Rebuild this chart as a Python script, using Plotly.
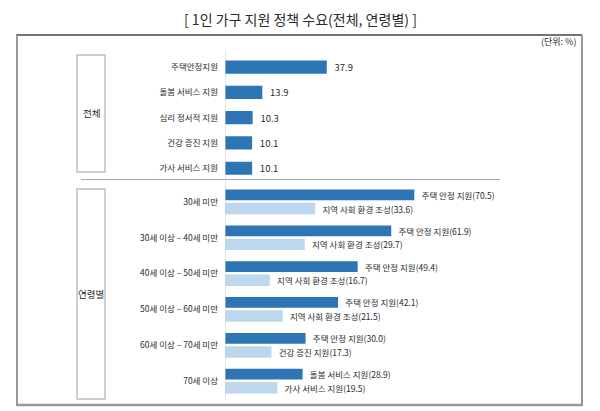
import plotly.graph_objects as go

# ---- data ----
overall_items = ["주택안정지원", "돌봄 서비스 지원", "심리 정서적 지원", "건강 증진 지원", "가사 서비스 지원"]
overall_values = [37.9, 13.9, 10.3, 10.1, 10.1]

age_groups = ["30세 미만", "30세 이상 – 40세 미만", "40세 이상 – 50세 미만",
              "50세 이상 – 60세 미만", "60세 이상 – 70세 미만", "70세 이상"]
first_names = ["주택 안정 지원", "주택 안정 지원", "주택 안정 지원",
               "주택 안정 지원", "주택 안정 지원", "돌봄 서비스 지원"]
first_values = [70.5, 61.9, 49.4, 42.1, 30.0, 28.9]
second_names = ["지역 사회 환경 조성", "지역 사회 환경 조성", "지역 사회 환경 조성",
                "지역 사회 환경 조성", "건강 증진 지원", "가사 서비스 지원"]
second_values = [33.6, 29.7, 16.7, 21.5, 17.3, 19.5]

section_labels = ["전체", "연령별"]
title_text = "[ 1인 가구 지원 정책 수요(전체, 연령별) ]"
unit_text = "(단위: %)"

# ---- style ----
FONT = "Noto Sans CJK KR"
DARK = "#2E75B6"
LIGHT = "#BDD7EE"
TXT = "#2B2B2B"
OFF = 8  # page body margin
W, H = 600 - OFF, 411 - OFF
XMAX = 102.4
GAP = "\u2002"  # small visual gap between bar end and its label


def py(p):
    return 1 - (p - OFF) / H


def px(p):
    return (p - OFF) / W


fig = go.Figure()

fig.add_trace(go.Bar(
    y=overall_items, x=overall_values, orientation="h",
    marker=dict(color=DARK, line=dict(width=0)), width=0.52,
    text=[f"{v:.1f}" for v in overall_values], texttemplate=GAP + "%{text}",
    textposition="outside",
    textfont=dict(family=FONT, size=9.5, color=TXT), cliponaxis=False,
    constraintext="none", xaxis="x", yaxis="y", showlegend=False,
))

fig.add_trace(go.Bar(
    y=age_groups, x=first_values, orientation="h",
    marker=dict(color=DARK, line=dict(width=0)), width=0.30, offset=-0.34,
    text=[f"{n}({v:.1f})" for n, v in zip(first_names, first_values)],
    texttemplate=GAP + "%{text}",
    textposition="outside", textfont=dict(family=FONT, size=8.5, color=TXT),
    cliponaxis=False, constraintext="none", xaxis="x2", yaxis="y2", showlegend=False,
))

fig.add_trace(go.Bar(
    y=age_groups, x=second_values, orientation="h",
    marker=dict(color=LIGHT, line=dict(width=0)), width=0.32, offset=0.03,
    text=[f"{n}({v:.1f})" for n, v in zip(second_names, second_values)],
    texttemplate=GAP + "%{text}",
    textposition="outside", textfont=dict(family=FONT, size=8.5, color=TXT),
    cliponaxis=False, constraintext="none", xaxis="x2", yaxis="y2", showlegend=False,
))

xdom = [px(225), px(500)]
common_x = dict(domain=xdom, range=[0, XMAX], visible=False, fixedrange=True)
common_y = dict(autorange="reversed", showline=False, showgrid=False, zeroline=False,
                ticks="", ticklabelstandoff=6, automargin=False,
                tickfont=dict(family=FONT, size=8.5, color=TXT))

fig.update_layout(
    width=W, height=H,
    margin=dict(l=0, r=0, t=0, b=0),
    paper_bgcolor="white", plot_bgcolor="rgba(0,0,0,0)",
    barmode="overlay",
    xaxis=dict(anchor="y", **common_x),
    yaxis=dict(anchor="x", domain=[py(180.9), py(54.4)], **common_y),
    xaxis2=dict(anchor="y2", **common_x),
    yaxis2=dict(anchor="x2", domain=[py(398.9), py(183.8)], **common_y),
    font=dict(family=FONT, color=TXT),
)

shapes = [
    # frame
    dict(type="line", xref="paper", yref="paper", x0=px(16), x1=px(582), y0=py(35), y1=py(35),
         line=dict(color="#444444", width=1.5)),
    dict(type="line", xref="paper", yref="paper", x0=px(17), x1=px(17), y0=py(35), y1=py(405),
         line=dict(color="#999999", width=2)),
    dict(type="line", xref="paper", yref="paper", x0=px(582), x1=px(582), y0=py(35), y1=py(405),
         line=dict(color="#999999", width=2)),
    dict(type="line", xref="paper", yref="paper", x0=px(16), x1=px(583), y0=py(405), y1=py(405),
         line=dict(color="#999999", width=2.5)),
    # separator between sections
    dict(type="line", xref="paper", yref="paper", x0=px(81), x1=px(500), y0=py(179.5), y1=py(179.5),
         line=dict(color="#A6A6A6", width=1)),
    # section boxes
    dict(type="rect", xref="paper", yref="paper", x0=px(77), x1=px(105), y0=py(172), y1=py(55),
         line=dict(color="#BFBFBF", width=1.5)),
    dict(type="rect", xref="paper", yref="paper", x0=px(77), x1=px(105), y0=py(399), y1=py(189),
         line=dict(color="#BFBFBF", width=1.5)),
    # vertical category axis line
    dict(type="line", xref="x", yref="paper", x0=0, x1=0, y0=py(400), y1=py(50),
         line=dict(color="#D0D0D0", width=1)),
]
fig.update_layout(shapes=shapes)

annotations = [
    dict(text=title_text, xref="paper", yref="paper", x=px(300), y=py(19), showarrow=False,
         xanchor="center", yanchor="middle", font=dict(family=FONT, size=14, color=TXT)),
    dict(text=unit_text, xref="paper", yref="paper", x=px(578), y=py(41), showarrow=False,
         xanchor="right", yanchor="middle", font=dict(family=FONT, size=9, color=TXT)),
    dict(text=section_labels[0], xref="paper", yref="paper", x=px(91), y=py(113), showarrow=False,
         xanchor="center", yanchor="middle", font=dict(family=FONT, size=9.5, color=TXT)),
    dict(text=section_labels[1], xref="paper", yref="paper", x=px(91), y=py(294), showarrow=False,
         xanchor="center", yanchor="middle", font=dict(family=FONT, size=9.5, color=TXT)),
]
fig.update_layout(annotations=annotations)

fig.write_html("out.html")
